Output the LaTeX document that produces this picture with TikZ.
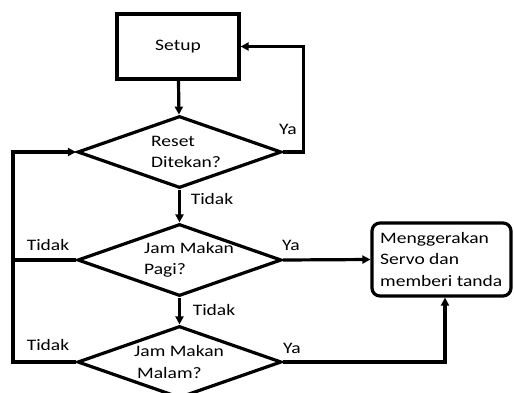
\documentclass[tikz,border=0pt]{standalone}
\usepackage{fontspec}
\setmainfont{Carlito}[FakeStretch=1.22]
\usetikzlibrary{shapes.geometric,arrows.meta}
\begin{document}
\begin{tikzpicture}[x=1pt,y=-1pt,
  every node/.style={font=\fontsize{16}{21.5}\selectfont},
  line/.style={line width=3.2pt},
  arrow/.style={line width=3.2pt, -{Triangle[length=8pt,width=8pt]}},
  procbox/.style={draw, line width=3.2pt, minimum width=122pt, minimum height=65pt, inner sep=0pt},
  roundbox/.style={draw, line width=3.2pt, rounded corners=8pt, minimum width=139pt, minimum height=73pt, inner sep=0pt},
  decision/.style={draw, diamond, line width=3.2pt, minimum width=204pt, minimum height=72pt, inner sep=0pt},
  dtext/.style={align=left, inner sep=0pt, anchor=west},
  lbl/.style={inner sep=0pt}]
\useasboundingbox (0,0) rectangle (514,392);
\clip (0,0) rectangle (514,392);

% process boxes
\node[procbox] (setup) at (178,46.5) {Setup};
\node[roundbox] (act) at (441.5,259.5) {};
\node[dtext] (acttext) at (380,259) {Menggerakan\\Servo dan\\memberi tanda};

% decisions
\node[decision] (reset) at (179.5,152) {};
\node[dtext] (resettext) at (151,152) {Reset\\Ditekan?};
\node[decision] (pagi) at (179.5,260) {};
\node[dtext] (pagitext) at (144,260) {Jam Makan\\Pagi?};
\node[decision] (malam) at (179.5,362) {};
\node[dtext] (malamtext) at (134,362) {Jam Makan\\\hspace*{3pt}Malam?};

% main flow
\draw[arrow] (setup) -- (reset);
\draw[arrow] (reset) -- (pagi);
\draw[arrow] (pagi) -- (malam);

% reset loop back to setup
\draw[arrow] (reset.east) -- ++(20,0) |- (setup.east);

% "Tidak" loop on the left
\coordinate (loopx) at (13,0);
\draw[arrow] (malam.west) -- (malam.west -| loopx) |- (reset.west);
\draw[line] (pagi.west) -- (pagi.west -| loopx);

% "Ya" branches into the action box
\draw[arrow] (pagi.east) -- (act.west);
\draw[arrow] (malam.east) -| ([xshift=3.5pt]act.south);

% branch labels
\node[lbl] (l1) at (288,129) {Ya};
\node[lbl] (l2) at (212,199) {Tidak};
\node[lbl] (l3) at (48,245) {Tidak};
\node[lbl] (l4) at (291,245) {Ya};
\node[lbl] (l5) at (214,310) {Tidak};
\node[lbl] (l6) at (48,345) {Tidak};
\node[lbl] (l7) at (292,348) {Ya};
\end{tikzpicture}
\end{document}
